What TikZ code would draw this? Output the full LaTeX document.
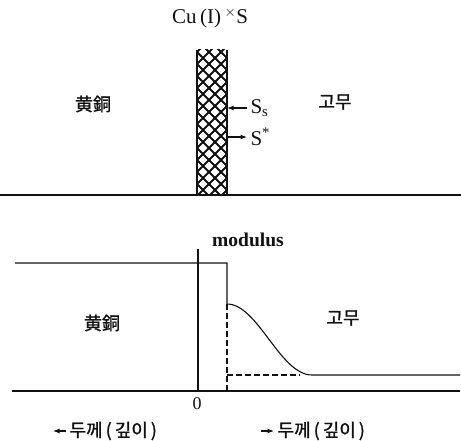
\documentclass[tikz,border=0pt]{standalone}
\usepackage{fontspec}
\setmainfont{Liberation Serif}
\newfontfamily\krfont{Noto Sans CJK KR}[FakeBold=1.2]
\usetikzlibrary{arrows.meta,positioning,calc}
\definecolor{inkblack}{HTML}{111111}

\begin{document}
\begin{tikzpicture}[x=1pt,y=-1pt,inkblack,
  baseline/.style={line width=1.2pt},
  thinline/.style={line width=1.1pt},
  hatch/.style={line width=1.9pt},
  pointer/.style={thinline,-{Latex[length=6.5pt,width=5pt]}},
  latin/.style={font=\fontsize{21}{21}\selectfont},
  korean/.style={font=\krfont\fontsize{18}{18}\selectfont},
  guide/.style={line width=1.1pt,dash pattern=on 6pt off 3pt}]
\useasboundingbox (0,0) rectangle (461,440);
\fill[white] (0,0) rectangle (461,440);
% upper part: the sulfide layer
\node[latin] (layer) at (210,18) {Cu\,(I)\,\textsuperscript{$\times$}S};
\node[minimum width=30pt,minimum height=145pt,inner sep=0pt] (film) at (212,122.5) {};
\begin{scope}
\clip (film.north west) rectangle (film.south east);
\foreach \k in {-15,...,18}{
  \draw[hatch] (197+\k*12,40) -- ++(180,180);
  \draw[hatch] (197+\k*12,40) -- ++(-180,180);
}
\end{scope}
\draw[line width=2.2pt] (film.north west) -- (film.south west);
\draw[line width=2.2pt] (film.north east) -- (film.south east);
\coordinate (top l) at (0,195);
\coordinate (top r) at (461,195);
\draw[baseline] (top l) -- (top r);
\node[korean] (brass top) at (93,104) {黄銅};
\node[korean] (rubber top) at (335,102) {고무};
\node[latin,anchor=west] (ss) at (247,108) {S\textsubscript{s}};
\node[latin,anchor=west] (sstar) at (247,137) {S\textsuperscript{*}};
\draw[pointer] (ss.west) -- (film.east |- ss.west);
\draw[pointer] (film.east |- sstar.west) -- (sstar.west);
% lower part: modulus profile
\node[latin,font=\bfseries\fontsize{19.5}{19.5}\selectfont] (modulus) at (248,240) {modulus};
\coordinate (axis top) at (198,249);
\coordinate (origin) at (198,391);
\coordinate (bot l) at (12,391);
\coordinate (bot r) at (460,391);
\coordinate (brass lvl) at (15,263);
\coordinate (edge top) at (227,263);
\coordinate (edge low) at (227,304);
\coordinate (edge base) at (227,391);
\coordinate (rubber lvl) at (312,375);
\coordinate (rubber end) at (460,375);
\coordinate (guide end) at (300,375);
\draw[baseline] (bot l) -- (bot r);
\draw[thinline] (axis top) -- (origin);
\draw[thinline] (brass lvl) -- (edge top) -- (edge low)
  .. controls (258,304) and (280,375) .. (rubber lvl) -- (rubber end);
\draw[guide] (edge low) -- (edge base);
\draw[guide] (edge low |- rubber lvl) -- (guide end);
\node[korean] (brass bot) at (102,323) {黄銅};
\node[korean] (rubber bot) at (343,318) {고무};
\node[latin,font=\fontsize{18}{18}\selectfont] (zero) at (197,404) {0};
\node[korean,anchor=west] (depth l) at (66,431) {두께\,(\,깊이\,)};
\node[korean,anchor=west] (depth r) at (274,431) {두께\,(\,깊이\,)};
\coordinate (depth l tip) at (53,431);
\coordinate (depth r tail) at (261,431);
\draw[pointer] (depth l.west) -- (depth l tip);
\draw[pointer] (depth r tail) -- (depth r.west);
\end{tikzpicture}
\end{document}
